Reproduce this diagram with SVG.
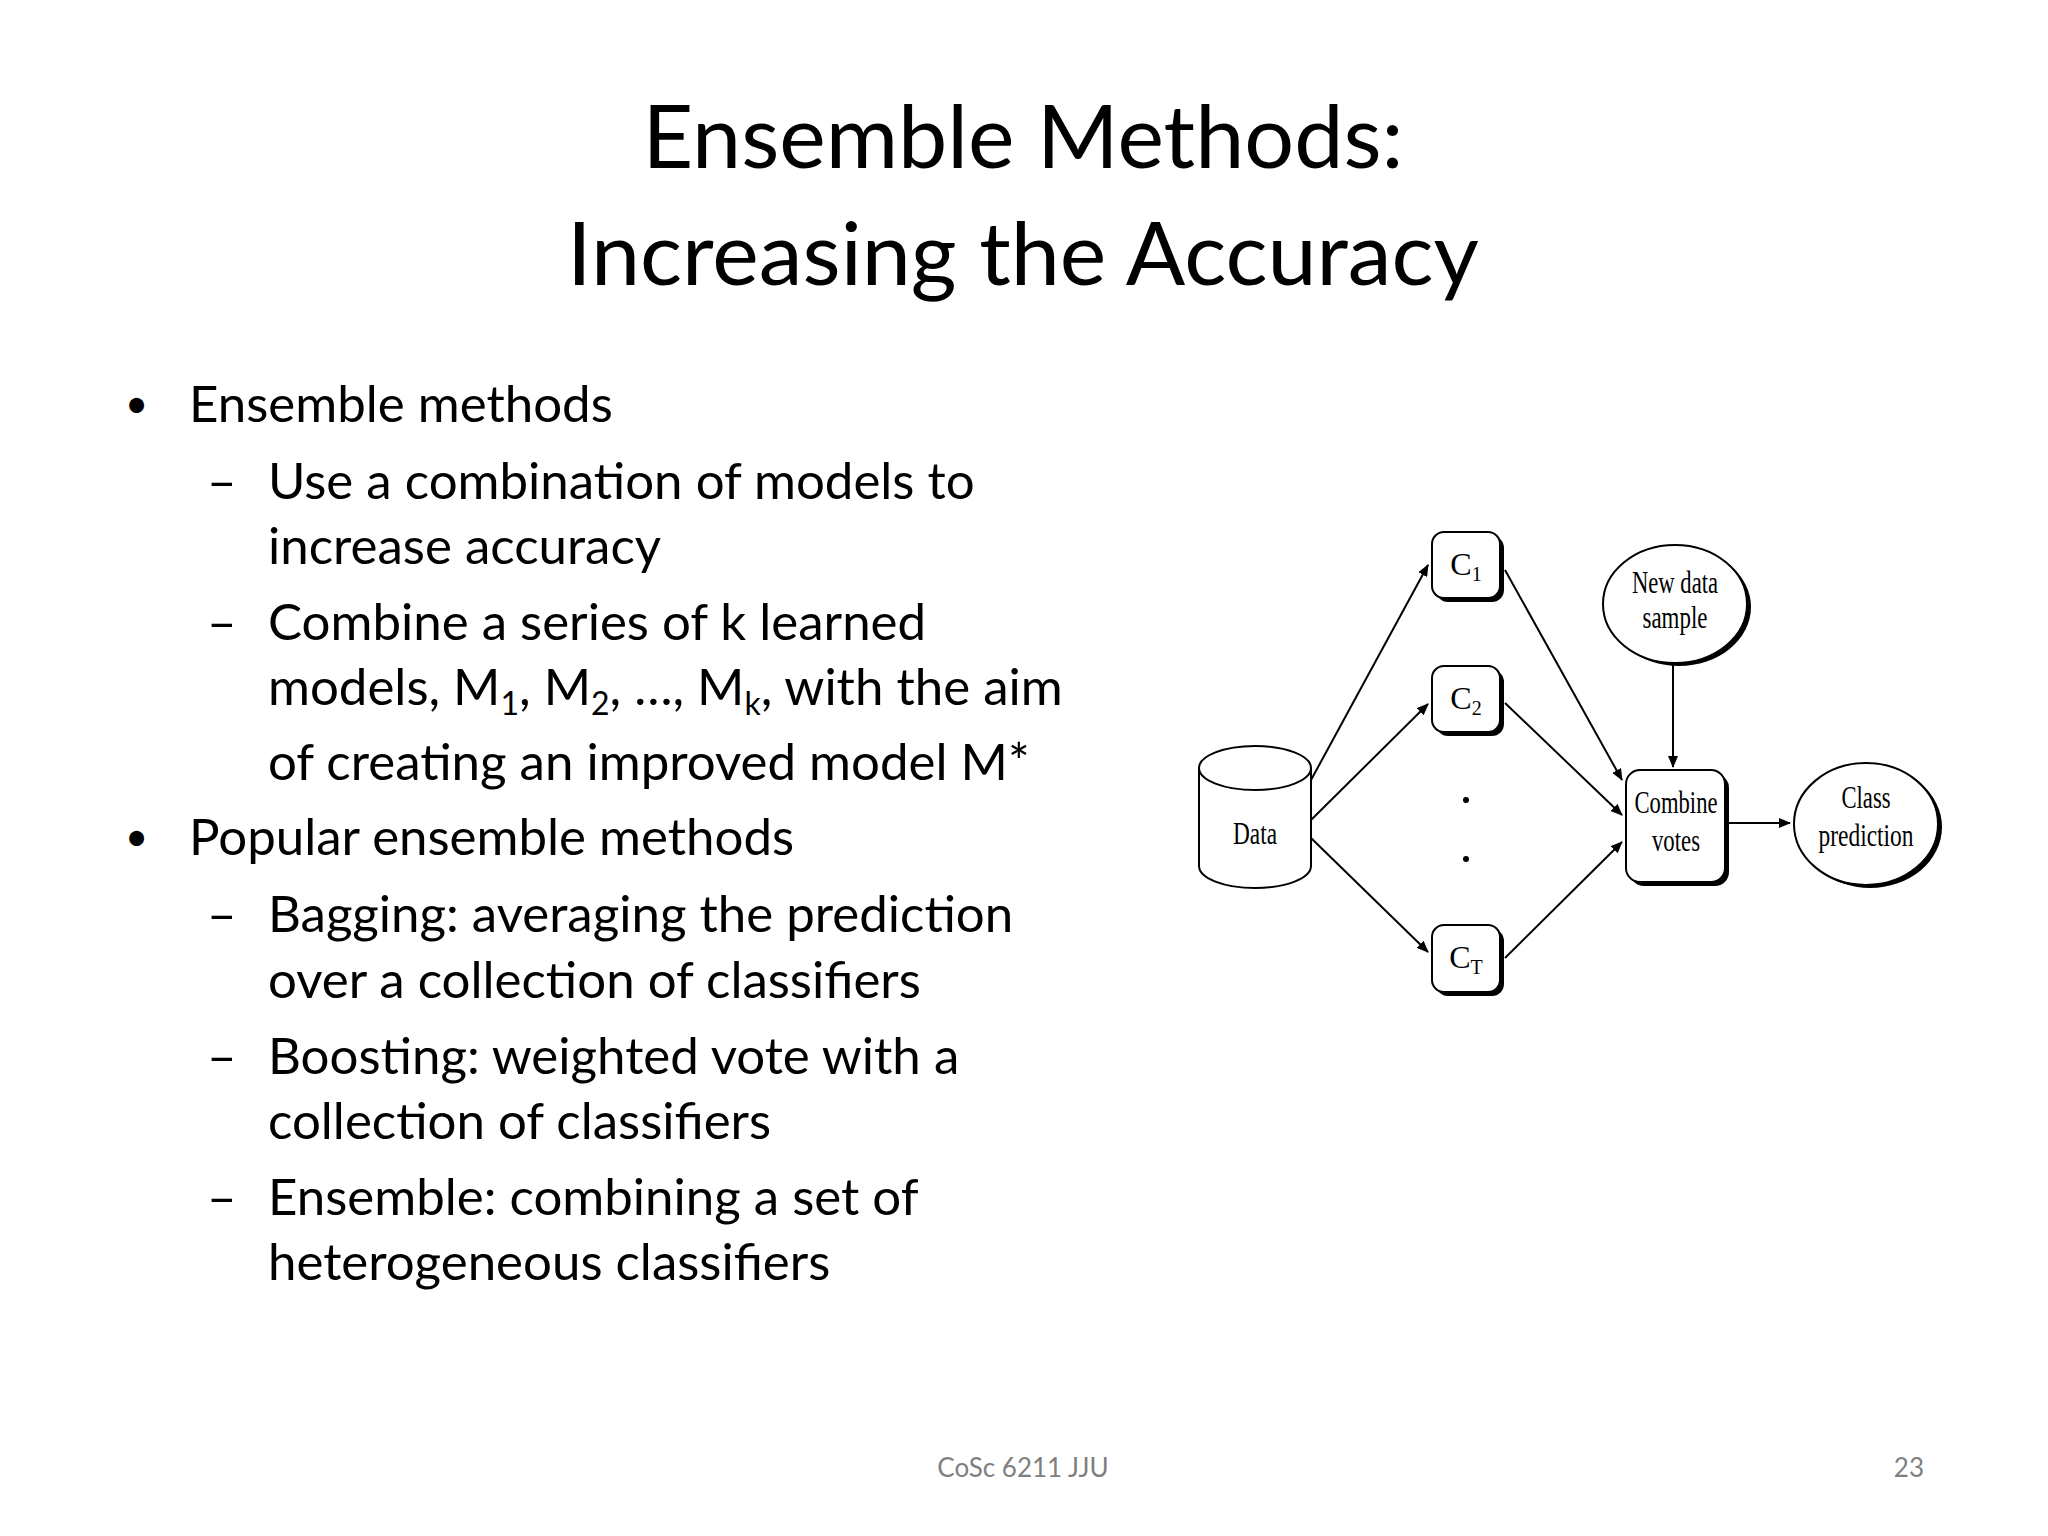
<svg xmlns="http://www.w3.org/2000/svg" width="2048" height="1536" viewBox="0 0 2048 1536">
<style>
.t{font-family:Lato,"Open Sans",sans-serif;fill:#000}
.b{font-size:51px}
.d{font-family:"Liberation Serif",serif;font-size:32px;text-anchor:middle}
.s{fill:#fff;stroke:#000;stroke-width:2}
.sh{fill:#000}
.c{stroke:#000;stroke-width:2;fill:none;marker-end:url(#a)}
</style>
<defs><marker id="a" markerWidth="12" markerHeight="10" refX="11" refY="5" orient="auto" markerUnits="userSpaceOnUse"><path d="M0,0 L12,5 L0,10 z"/></marker></defs>
<rect width="2048" height="1536" fill="#fff"/>
<text class="t" x="1023" y="168" font-size="88" text-anchor="middle">Ensemble Methods:</text>
<text class="t" x="1023" y="285" font-size="88" text-anchor="middle">Increasing the Accuracy</text>
<g class="t b">
<text x="125" y="418" font-size="40">•</text><text x="189" y="422">Ensemble methods</text>
<text x="207" y="499">–</text><text x="268" y="499">Use a combination of models to</text>
<text x="268" y="564">increase accuracy</text>
<text x="207" y="640">–</text><text x="268" y="640">Combine a series of k learned</text>
<text x="268" y="705">models, M<tspan font-size="32" dy="10">1</tspan><tspan dy="-10">, M</tspan><tspan font-size="32" dy="10">2</tspan><tspan dy="-10">, …, M</tspan><tspan font-size="32" dy="10">k</tspan><tspan dy="-10">, with the aim</tspan></text>
<text x="268" y="780">of creating an improved model M*</text>
<text x="125" y="851" font-size="40">•</text><text x="189" y="855">Popular ensemble methods</text>
<text x="207" y="932">–</text><text x="268" y="932">Bagging: averaging the prediction</text>
<text x="268" y="998">over a collection of classifiers</text>
<text x="207" y="1074">–</text><text x="268" y="1074">Boosting: weighted vote with a</text>
<text x="268" y="1139">collection of classifiers</text>
<text x="207" y="1215">–</text><text x="268" y="1215">Ensemble: combining a set of</text>
<text x="268" y="1280">heterogeneous classifiers</text>
</g>
<text class="t" x="1023" y="1477" font-size="26" text-anchor="middle" style="fill:#7f7f7f">CoSc 6211 JJU</text>
<text class="t" x="1924" y="1477" font-size="26" text-anchor="end" style="fill:#7f7f7f">23</text>
<g id="connectors">
<line class="c" x1="1311" y1="780" x2="1428" y2="565"/>
<line class="c" x1="1311" y1="820" x2="1428" y2="704"/>
<line class="c" x1="1311" y1="838" x2="1428" y2="952"/>
<line class="c" x1="1505" y1="570" x2="1622" y2="780"/>
<line class="c" x1="1505" y1="703" x2="1622" y2="815"/>
<line class="c" x1="1505" y1="958" x2="1622" y2="842"/>
<line class="c" x1="1673" y1="665" x2="1673" y2="767"/>
<line class="c" x1="1728" y1="823" x2="1790" y2="823"/>
</g>
<g id="data">
<path class="s" d="M1199,768 V866 A56,22 0 0 0 1311,866 V768"/>
<ellipse class="s" cx="1255" cy="768" rx="56" ry="22"/>
<text class="d" x="1255" y="844" textLength="44" lengthAdjust="spacingAndGlyphs">Data</text>
</g>
<g id="c1"><rect class="sh" x="1436" y="536" width="68" height="66" rx="12"/><rect class="s" x="1432" y="532" width="68" height="66" rx="12"/><text class="d" x="1466" y="575">C<tspan font-size="20" dy="6">1</tspan></text></g>
<g id="c2"><rect class="sh" x="1436" y="670" width="68" height="66" rx="12"/><rect class="s" x="1432" y="666" width="68" height="66" rx="12"/><text class="d" x="1466" y="709">C<tspan font-size="20" dy="6">2</tspan></text></g>
<g id="dots"><circle cx="1466" cy="800" r="3"/><circle cx="1466" cy="859" r="3"/></g>
<g id="ct"><rect class="sh" x="1436" y="929" width="68" height="67" rx="12"/><rect class="s" x="1432" y="925" width="68" height="67" rx="12"/><text class="d" x="1466" y="968">C<tspan font-size="20" dy="6">T</tspan></text></g>
<g id="newdata"><ellipse class="sh" cx="1679" cy="607" rx="72" ry="59"/><ellipse class="s" cx="1675" cy="604" rx="72" ry="59"/><text class="d" x="1675" y="593" textLength="86" lengthAdjust="spacingAndGlyphs">New data</text><text class="d" x="1675" y="628" textLength="65" lengthAdjust="spacingAndGlyphs">sample</text></g>
<g id="combine"><rect class="sh" x="1630" y="774" width="99" height="112" rx="14"/><rect class="s" x="1626" y="770" width="99" height="112" rx="14"/><text class="d" x="1676" y="813" textLength="83" lengthAdjust="spacingAndGlyphs">Combine</text><text class="d" x="1676" y="851" textLength="48" lengthAdjust="spacingAndGlyphs">votes</text></g>
<g id="classpred"><ellipse class="sh" cx="1870" cy="827" rx="72" ry="61"/><ellipse class="s" cx="1866" cy="824" rx="72" ry="61"/><text class="d" x="1866" y="808" textLength="49" lengthAdjust="spacingAndGlyphs">Class</text><text class="d" x="1866" y="846" textLength="95" lengthAdjust="spacingAndGlyphs">prediction</text></g>
</svg>
